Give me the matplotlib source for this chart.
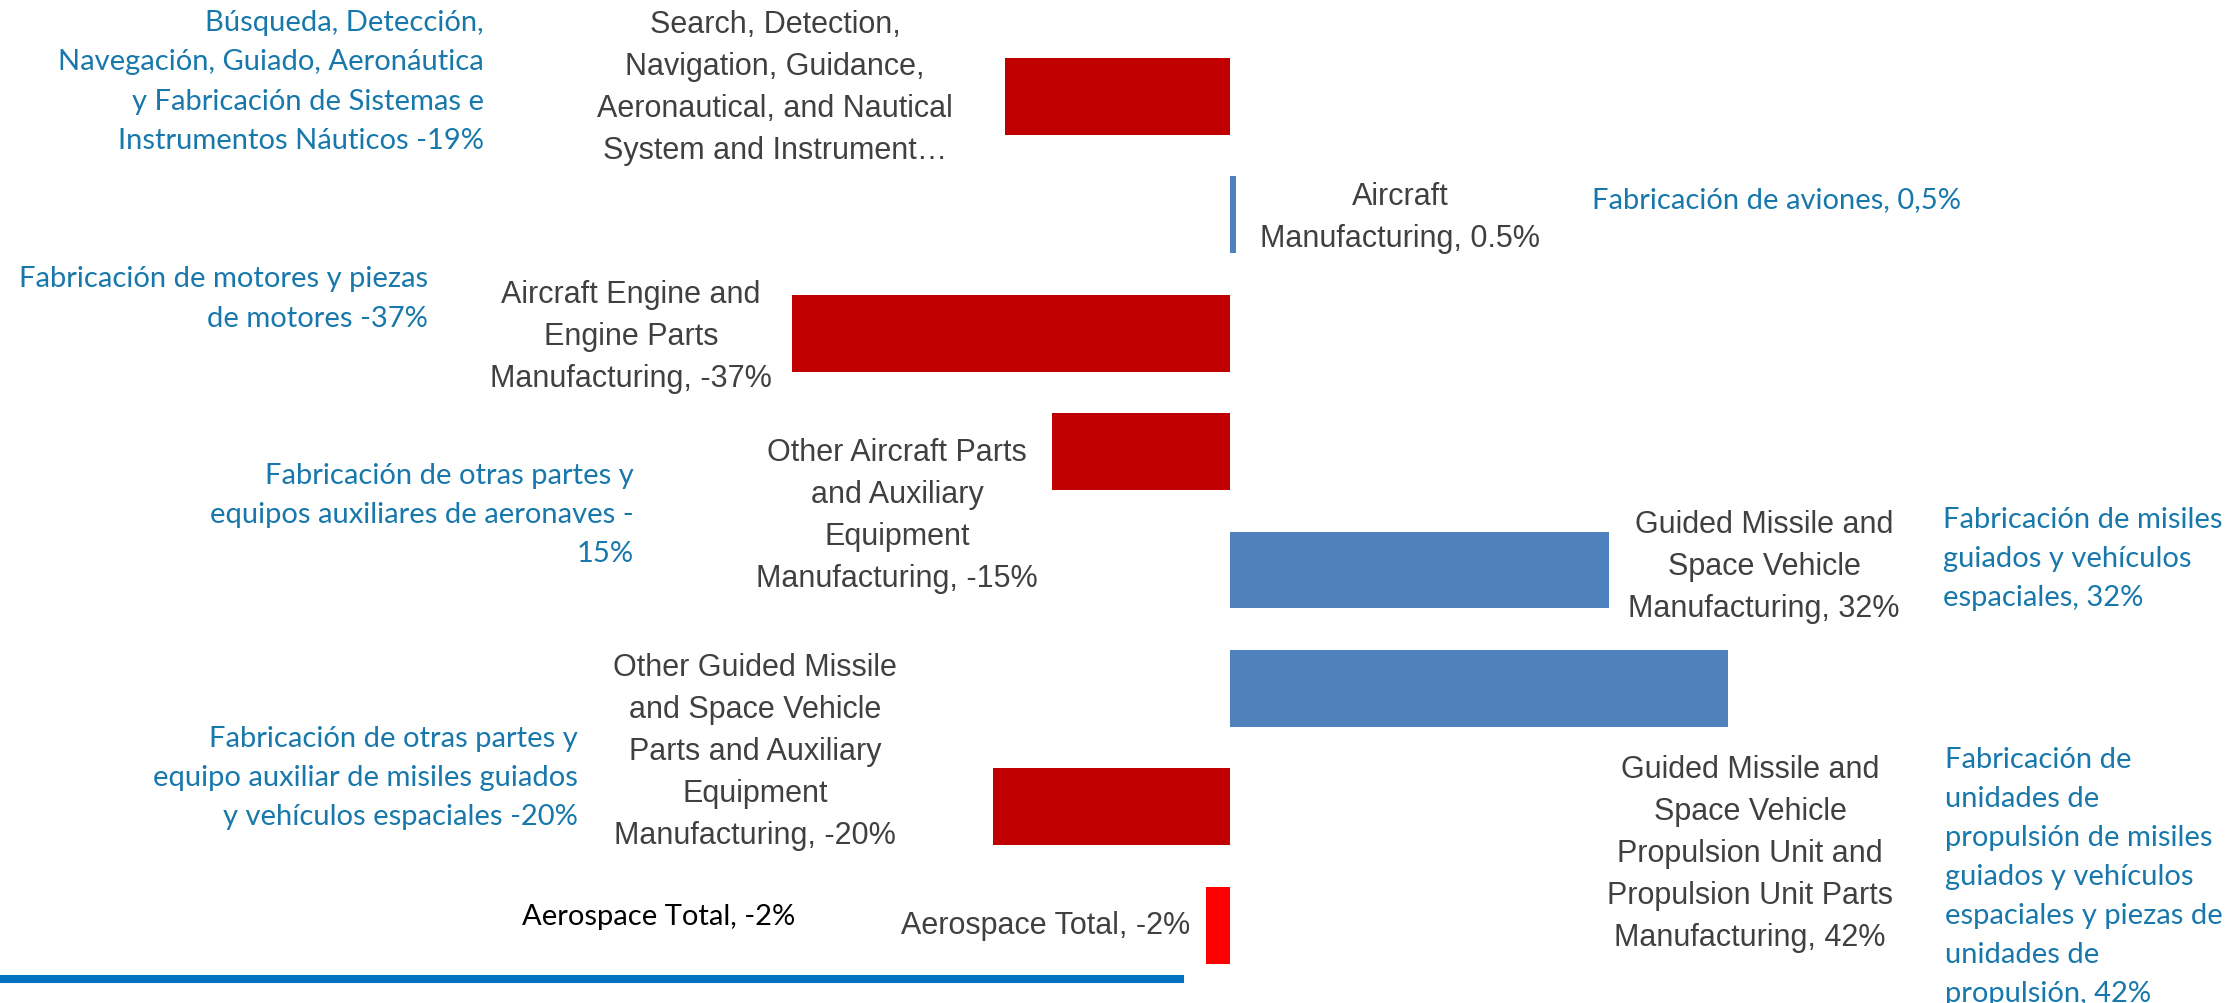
import matplotlib
matplotlib.use('Agg')
from matplotlib import pyplot as plt, font_manager as fm

W, H = 2230, 1004          # output size in px (dpi 100)

# --- data -------------------------------------------------------------
sectors = [
    'Search, Detection, Navigation, Guidance, Aeronautical, and Nautical System and Instrument',
    'Aircraft Manufacturing',
    'Aircraft Engine and Engine Parts Manufacturing',
    'Other Aircraft Parts and Auxiliary Equipment Manufacturing',
    'Guided Missile and Space Vehicle Manufacturing',
    'Guided Missile and Space Vehicle Propulsion Unit and Propulsion Unit Parts Manufacturing',
    'Other Guided Missile and Space Vehicle Parts and Auxiliary Equipment Manufacturing',
    'Aerospace Total',
]
change_pct = [-19, 0.5, -37, -15, 32, 42, -20, -2]

labels_en = [
    'Search, Detection,\nNavigation, Guidance,\nAeronautical, and Nautical\nSystem and Instrument…',
    'Aircraft\nManufacturing, 0.5%',
    'Aircraft Engine and\nEngine Parts\nManufacturing, -37%',
    'Other Aircraft Parts\nand Auxiliary\nEquipment\nManufacturing, -15%',
    'Guided Missile and\nSpace Vehicle\nManufacturing, 32%',
    'Guided Missile and\nSpace Vehicle\nPropulsion Unit and\nPropulsion Unit Parts\nManufacturing, 42%',
    'Other Guided Missile\nand Space Vehicle\nParts and Auxiliary\nEquipment\nManufacturing, -20%',
    'Aerospace Total, -2%',
]
labels_es = [
    'Búsqueda, Detección,\nNavegación, Guiado, Aeronáutica\ny Fabricación de Sistemas e\nInstrumentos Náuticos -19%',
    'Fabricación de aviones, 0,5%',
    'Fabricación de motores y piezas\nde motores -37%',
    'Fabricación de otras partes y\nequipos auxiliares de aeronaves -\n15%',
    'Fabricación de misiles\nguiados y vehículos\nespaciales, 32%',
    'Fabricación de\nunidades de\npropulsión de misiles\nguiados y vehículos\nespaciales y piezas de\nunidades de\npropulsión, 42%',
    'Fabricación de otras partes y\nequipo auxiliar de misiles guiados\ny vehículos espaciales -20%',
]
total_label = 'Aerospace Total, -2%'

# --- style ------------------------------------------------------------
DARK_RED = '#C00000'
BLUE = '#4F81BD'
RED = '#FF0000'
GREY = '#404040'
TEAL = '#1878AC'


def have(name):
    return any(f.name == name for f in fm.fontManager.ttflist)


EN_FONT = 'Liberation Sans Narrow' if have('Liberation Sans Narrow') else 'Liberation Sans'
ES_FONT = 'Lato'

# label anchors, pixels from top-left of the picture
en_pos = [(775, 88), (1400, 218), (631, 337), (897, 516),
          (1764, 567), (1750, 854), (755, 752), (1046, 926)]
es_pos = [(484, 82, 'right'), (1592, 200, 'left'), (428, 299, 'right'),
          (634, 515, 'right'), (1943, 559, 'left'), (1945, 877, 'left'),
          (578, 778, 'right')]

fig = plt.figure(figsize=(W / 100, H / 100), dpi=100)
ax = fig.add_axes([0, 0, 1, 1])

colors = []
for name, v in zip(sectors, change_pct):
    if name == 'Aerospace Total':
        colors.append(RED)
    elif v < 0:
        colors.append(DARK_RED)
    else:
        colors.append(BLUE)

ax.barh(range(len(sectors)), change_pct, height=0.65, color=colors)
# zero at x=1230px, ~11.85 px per percent; bars 118.4 px apart, first at y=97px
ax.set_xlim(-1230 / 11.85, (W - 1230) / 11.85)
ax.set_ylim((H - 97.4) / 118.4, -97.4 / 118.4)
ax.axis('off')


def fx(x):
    return x / W


def fy(y):
    return 1 - y / H


for txt, (x, y) in zip(labels_en, en_pos):
    fig.text(fx(x), fy(y), txt, ha='center', va='center', multialignment='center',
             family=EN_FONT, fontsize=22, color=GREY, linespacing=1.52)

for txt, (x, y, al) in zip(labels_es, es_pos):
    fig.text(fx(x), fy(y), txt, ha=al, va='center', multialignment=al,
             family=ES_FONT, fontsize=21, color=TEAL, linespacing=1.62)

fig.text(fx(659), fy(917), total_label, ha='center', va='center',
         family=ES_FONT, fontsize=21, color='black')

# blue rule at the bottom of the slide
fig.add_artist(plt.Line2D([0, fx(1180)], [fy(980), fy(980)], color='#0070C0', lw=5.8))

fig.savefig('out.png', dpi=100)
